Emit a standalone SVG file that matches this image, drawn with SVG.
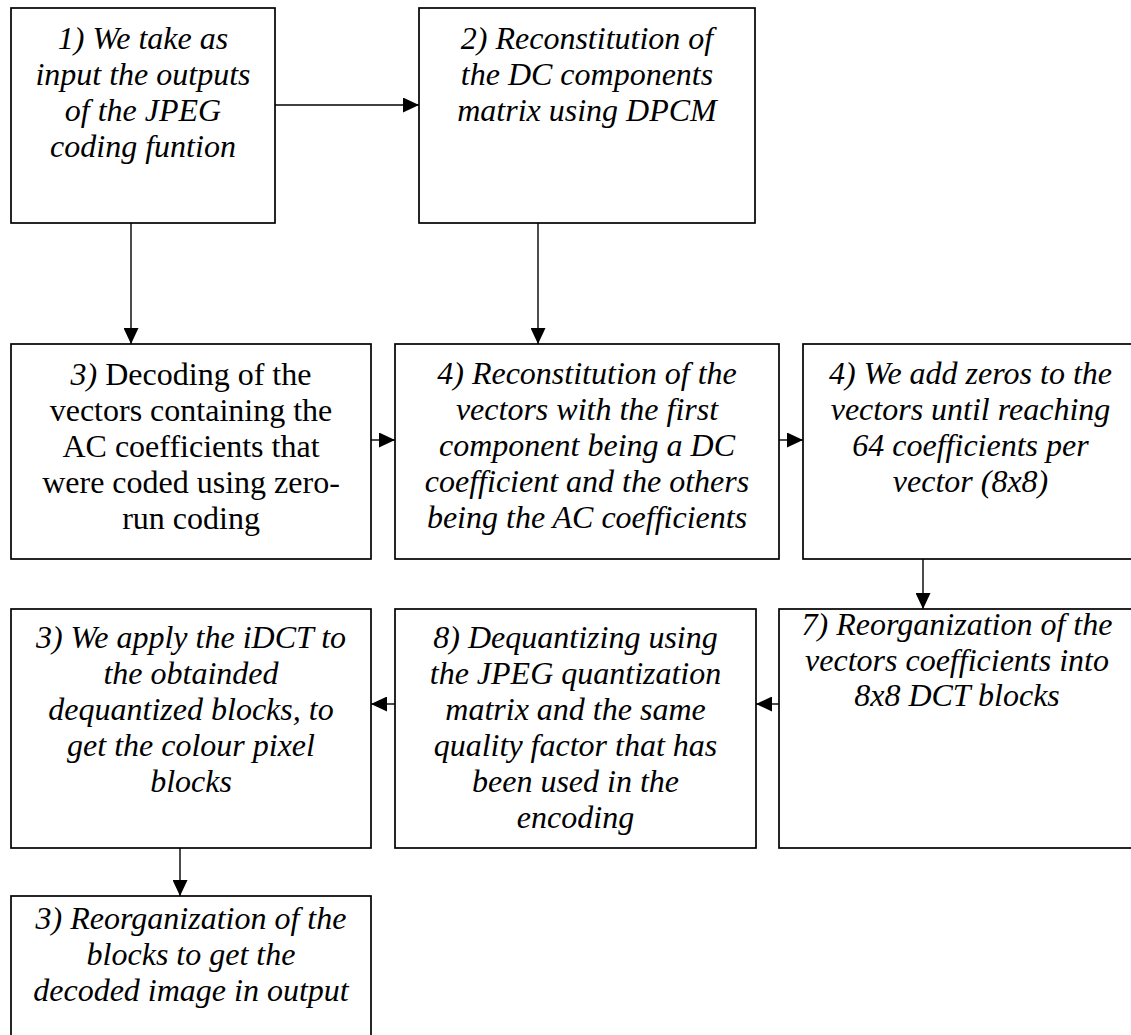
<svg xmlns="http://www.w3.org/2000/svg" width="1131" height="1035" viewBox="0 0 1131 1035">
<defs>
<style>
.box{fill:#fff;stroke:#000;stroke-width:1.7}
.t{font-family:'Liberation Serif','Times New Roman','DejaVu Serif',serif;font-size:32px;font-style:italic;fill:#000;text-anchor:middle}
.up{font-style:normal}
.c{stroke:#000;stroke-width:1.4;fill:none;marker-end:url(#ah)}
</style>
<marker id="ah" markerUnits="userSpaceOnUse" markerWidth="16" markerHeight="15" refX="16" refY="7.5" orient="auto">
<path d="M0,0 L16,7.5 L0,15 Z" fill="#000"/>
</marker>
</defs>
<rect width="1131" height="1035" fill="#fff"/>
<g id="connectors">
<line class="c" x1="275" y1="105" x2="419" y2="105"/>
<line class="c" x1="131" y1="223" x2="131" y2="344"/>
<line class="c" x1="538" y1="223" x2="538" y2="344"/>
<line class="c" x1="371" y1="440" x2="395" y2="440"/>
<line class="c" x1="779" y1="440" x2="803" y2="440"/>
<line class="c" x1="923" y1="559" x2="923" y2="609"/>
<line class="c" x1="779" y1="704" x2="756" y2="704"/>
<line class="c" x1="395" y1="704" x2="371" y2="704"/>
<line class="c" x1="180" y1="848" x2="180" y2="896"/>
</g>
<g id="n1">
<rect class="box" x="11" y="8" width="264" height="215"/>
<text class="t" font-family="Liberation Serif, serif"><tspan x="143" y="48.5">1) We take as</tspan><tspan x="143" y="84.6">input the outputs</tspan><tspan x="143" y="120.7">of the JPEG</tspan><tspan x="143" y="156.8">coding funtion</tspan></text>
</g>
<g id="n2">
<rect class="box" x="419" y="8" width="336" height="215"/>
<text class="t" font-family="Liberation Serif, serif"><tspan x="587" y="48.5">2) Reconstitution of</tspan><tspan x="587" y="84.6">the DC components</tspan><tspan x="587" y="120.7">matrix using DPCM</tspan></text>
</g>
<g id="n3">
<rect class="box" x="11" y="344" width="360" height="215"/>
<text class="t" font-family="Liberation Serif, serif"><tspan x="191" y="385">3)<tspan class="up"> Decoding of the</tspan></tspan><tspan class="up" x="191" y="421">vectors containing the</tspan><tspan class="up" x="191" y="457">AC coefficients that</tspan><tspan class="up" x="191" y="493">were coded using zero-</tspan><tspan class="up" x="191" y="529">run coding</tspan></text>
</g>
<g id="n4">
<rect class="box" x="395" y="344" width="384" height="215"/>
<text class="t" font-family="Liberation Serif, serif"><tspan x="587" y="384">4) Reconstitution of the</tspan><tspan x="587" y="420">vectors with the first</tspan><tspan x="587" y="456">component being a DC</tspan><tspan x="587" y="492">coefficient and the others</tspan><tspan x="587" y="528">being the AC coefficients</tspan></text>
</g>
<g id="n5">
<rect class="box" x="803" y="344" width="335" height="215"/>
<text class="t" font-family="Liberation Serif, serif"><tspan x="970.5" y="384">4) We add zeros to the</tspan><tspan x="970.5" y="420">vectors until reaching</tspan><tspan x="970.5" y="456">64 coefficients per</tspan><tspan x="970.5" y="492">vector (8x8)</tspan></text>
</g>
<g id="n7">
<rect class="box" x="779" y="609" width="357" height="239"/>
<text class="t" font-family="Liberation Serif, serif"><tspan x="957" y="635">7) Reorganization of the</tspan><tspan x="957" y="670.5">vectors coefficients into</tspan><tspan x="957" y="706">8x8 DCT blocks</tspan></text>
</g>
<g id="n8">
<rect class="box" x="395" y="609" width="361" height="239"/>
<text class="t" font-family="Liberation Serif, serif"><tspan x="575.5" y="648">8) Dequantizing using</tspan><tspan x="575.5" y="684">the JPEG quantization</tspan><tspan x="575.5" y="720">matrix and the same</tspan><tspan x="575.5" y="756">quality factor that has</tspan><tspan x="575.5" y="792">been used in the</tspan><tspan x="575.5" y="828">encoding</tspan></text>
</g>
<g id="n6">
<rect class="box" x="11" y="609" width="360" height="239"/>
<text class="t" font-family="Liberation Serif, serif"><tspan x="191" y="648">3) We apply the iDCT to</tspan><tspan x="191" y="684">the obtainded</tspan><tspan x="191" y="720">dequantized blocks, to</tspan><tspan x="191" y="756">get the colour pixel</tspan><tspan x="191" y="792">blocks</tspan></text>
</g>
<g id="n9">
<rect class="box" x="11" y="896" width="360" height="150"/>
<text class="t" font-family="Liberation Serif, serif"><tspan x="191" y="929">3) Reorganization of the</tspan><tspan x="191" y="965">blocks to get the</tspan><tspan x="191" y="1001">decoded image in output</tspan></text>
</g>
</svg>
